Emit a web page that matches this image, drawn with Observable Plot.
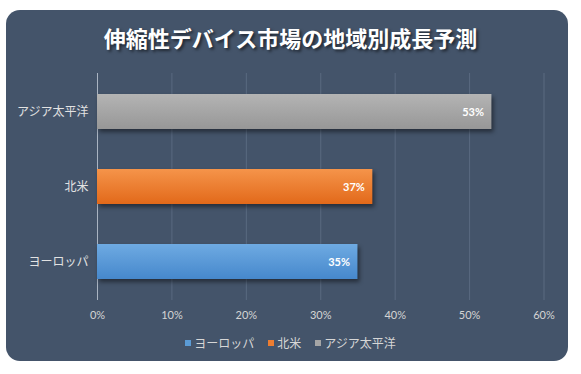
<!DOCTYPE html>
<html>
<head>
<meta charset="utf-8">
<script src="https://cdn.jsdelivr.net/npm/d3@7"></script>
<script src="https://cdn.jsdelivr.net/npm/@observablehq/plot@0.6"></script>
<style>
  html, body { margin: 0; padding: 0; background: #ffffff; }
  #wrap { position: relative; width: 581px; height: 374px; overflow: hidden; }
  #panel { position: absolute; left: 6px; top: 10px; width: 562px; height: 351px; border-radius: 14px; background: #44546a; }
  #title { position: absolute; left: 0; top: 23px; width: 581px; text-align: center; color: #ffffff;
    font-family: "Noto Sans CJK JP", sans-serif; font-weight: 700; font-size: 22px; line-height: 28px;
    text-shadow: 2px 2px 3px rgba(0,0,0,0.55); }
  #chart { position: absolute; left: 0; top: 0; }
  #legend { position: absolute; left: 0; top: 334px; width: 581px; display: flex; justify-content: center; gap: 14px;
    font-family: "Noto Sans CJK JP", sans-serif; font-size: 12px; line-height: 18px; color: #d6d6d6; }
  #legend .item { display: flex; align-items: center; gap: 3px; }
  #legend .sw { width: 6px; height: 6px; display: inline-block; }
</style>
</head>
<body>
<div id="wrap">
  <div id="panel"></div>
  <div id="title"></div>
  <div id="chart"></div>
  <div id="legend"></div>
</div>
<script>
const titleText = "伸縮性デバイス市場の地域別成長予測";
const regions = ["ヨーロッパ", "北米", "アジア太平洋"];
const growth = [0.35, 0.37, 0.53];
const yOrder = ["アジア太平洋", "北米", "ヨーロッパ"];
const xTicks = [0, 0.1, 0.2, 0.3, 0.4, 0.5, 0.6];
const colorsTop = ["#6eaae2", "#f5944a", "#b4b4b4"];
const colorsBottom = ["#4688cc", "#e2691a", "#979797"];
const legendColors = ["#5b9bd5", "#ed7d31", "#a5a5a5"];

document.getElementById("title").textContent = titleText;

const data = regions.map((r, i) => ({region: r, value: growth[i]}));
const fmt = d3.format(".0%");

const chart = Plot.plot({
  width: 581,
  height: 374,
  marginLeft: 97,
  marginRight: 37.5,
  marginTop: 73,
  marginBottom: 74,
  style: {background: "transparent", overflow: "visible"},
  x: {domain: [0, 0.6], ticks: xTicks, tickFormat: fmt, label: null},
  y: {domain: yOrder, paddingInner: 0.535, paddingOuter: 0.2675, label: null},
  color: {domain: regions, range: regions.map((r, i) => `url(#grad${i})`)},
  marks: [
    Plot.ruleX(xTicks.slice(1), {stroke: "#5a6a80", strokeWidth: 1}),
    Plot.ruleX([0], {stroke: "#aab4c2", strokeWidth: 1}),
    Plot.barX(data, {y: "region", x: "value", fill: "region"}),
    Plot.text(data, {y: "region", x: "value", text: d => fmt(d.value), textAnchor: "end", dx: -8,
      fill: "#ffffff", fontWeight: "bold", fontSize: 11, fontFamily: "Lato, sans-serif"}),
    Plot.axisX({ticks: xTicks, tickFormat: fmt, tickSize: 0, tickPadding: 11, color: "#d4d4d4",
      fontSize: 11, fontFamily: "Lato, 'Open Sans', sans-serif", label: null}),
    Plot.axisY({tickSize: 0, tickPadding: 9, color: "#e2e2e2", fontSize: 12,
      fontFamily: "'Noto Sans CJK JP', sans-serif", label: null})
  ]
});

const svg = d3.select(chart);
const defs = svg.insert("defs", ":first-child");
regions.forEach((r, i) => {
  const g = defs.append("linearGradient").attr("id", `grad${i}`).attr("x1", 0).attr("y1", 0).attr("x2", 0).attr("y2", 1);
  g.append("stop").attr("offset", "0%").attr("stop-color", colorsTop[i]);
  g.append("stop").attr("offset", "100%").attr("stop-color", colorsBottom[i]);
});
svg.selectAll('g[aria-label="bar"] rect').style("filter", "drop-shadow(2px 3px 2px rgba(0,0,0,0.45))");
document.getElementById("chart").appendChild(chart);

const legend = document.getElementById("legend");
regions.forEach((r, i) => {
  const item = document.createElement("span");
  item.className = "item";
  const sw = document.createElement("span");
  sw.className = "sw";
  sw.style.background = legendColors[i];
  const t = document.createElement("span");
  t.textContent = r;
  item.appendChild(sw);
  item.appendChild(t);
  legend.appendChild(item);
});
</script>
</body>
</html>
